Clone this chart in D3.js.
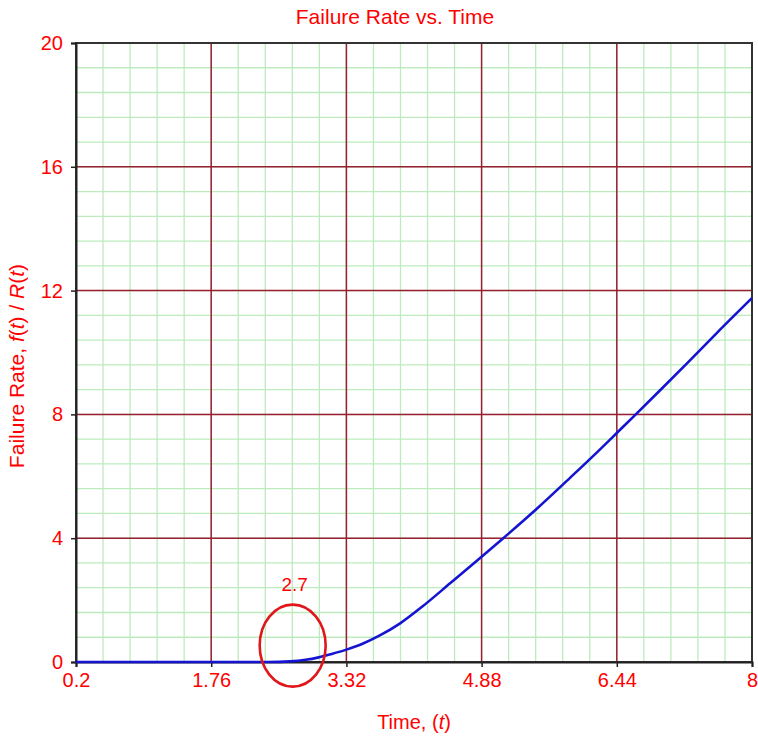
<!DOCTYPE html>
<html>
<head>
<meta charset="utf-8">
<script src="https://cdn.jsdelivr.net/npm/d3@7"></script>
<style>
  html, body { margin: 0; padding: 0; background: #fff; }
  svg { display: block; font-family: "Liberation Sans", Arial, sans-serif; }
</style>
</head>
<body>
<svg id="chart" width="758" height="737"></svg>
<script>
// Failure rate curve h(t) = f(t) / R(t)
const timeValues = [0.2, 1.0, 2.0, 2.42, 2.67, 2.85, 3.0, 3.15, 3.32, 3.5, 3.7, 3.94, 4.2, 4.52, 4.88,
                    5.13, 5.52, 5.9, 6.25, 6.44, 6.63, 6.94, 7.25, 7.59, 8.0];
const rateValues = [0, 0, 0, 0, 0.02, 0.07, 0.15, 0.26, 0.4, 0.58, 0.85, 1.25, 1.8, 2.55, 3.4,
                    4.0, 4.96, 5.95, 6.88, 7.4, 7.92, 8.78, 9.65, 10.62, 11.76];

const xTickValues = [0.2, 1.76, 3.32, 4.88, 6.44, 8];
const xTickLabels = ["0.2", "1.76", "3.32", "4.88", "6.44", "8"];
const yTickValues = [0, 4, 8, 12, 16, 20];

// Highlighted point on the curve
const markerTime = 2.7;
const markerLabel = "2.7";

const svg = d3.select("#chart");
const margin = { left: 76, right: 6, top: 43, bottom: 75 };
const W = 758, H = 737;

const x = d3.scaleLinear().domain([0.2, 8]).range([margin.left, W - margin.right]);
const y = d3.scaleLinear().domain([0, 20]).range([H - margin.bottom, margin.top]);

const red = "#ff0000";

// Minor grid (5 subdivisions per major step)
const xMinor = d3.range(0, 26).map(i => 0.2 + i * 0.312);
const yMinor = d3.range(0, 26).map(i => i * 0.8);
const grid = svg.append("g");
grid.selectAll("line.vx").data(xMinor).join("line")
  .attr("x1", d => x(d)).attr("x2", d => x(d))
  .attr("y1", y(0)).attr("y2", y(20))
  .attr("stroke", "#bdebbd").attr("stroke-width", 1.3);
grid.selectAll("line.hy").data(yMinor).join("line")
  .attr("x1", x(0.2)).attr("x2", x(8))
  .attr("y1", d => y(d)).attr("y2", d => y(d))
  .attr("stroke", "#bdebbd").attr("stroke-width", 1.3);

// Major grid
grid.selectAll("line.mx").data(xTickValues).join("line")
  .attr("x1", d => x(d)).attr("x2", d => x(d))
  .attr("y1", y(0)).attr("y2", y(20))
  .attr("stroke", "#9a1f33").attr("stroke-width", 1.5);
grid.selectAll("line.my").data(yTickValues).join("line")
  .attr("x1", x(0.2)).attr("x2", x(8))
  .attr("y1", d => y(d)).attr("y2", d => y(d))
  .attr("stroke", "#9a1f33").attr("stroke-width", 1.5);

// Frame
svg.append("rect")
  .attr("x", x(0.2)).attr("y", y(20))
  .attr("width", x(8) - x(0.2)).attr("height", y(0) - y(20))
  .attr("fill", "none").attr("stroke", "#333").attr("stroke-width", 2);

// Axes
const xAxis = svg.append("g")
  .attr("transform", `translate(0,${y(0)})`)
  .call(d3.axisBottom(x).tickValues(xTickValues).tickFormat((d, i) => xTickLabels[i]).tickSize(5).tickPadding(6));
const yAxis = svg.append("g")
  .attr("transform", `translate(${x(0.2)},0)`)
  .call(d3.axisLeft(y).tickValues(yTickValues).tickSize(5).tickPadding(8));
[xAxis, yAxis].forEach(g => {
  g.select(".domain").attr("stroke", "#222").attr("stroke-width", 2);
  g.selectAll(".tick line").attr("stroke", "#222").attr("stroke-width", 1.5);
  g.selectAll(".tick text").attr("fill", red)
    .style("font-family", '"Liberation Sans", Arial, sans-serif').style("font-size", "20px");
});

// Curve
const pts = timeValues.map((t, i) => [t, rateValues[i]]);
svg.append("path")
  .datum(pts)
  .attr("fill", "none")
  .attr("stroke", "#1414d2")
  .attr("stroke-width", 2.6)
  .attr("d", d3.line().x(d => x(d[0])).y(d => y(d[1])).curve(d3.curveMonotoneX));

// Marker ellipse and label
const mx = x(markerTime);
svg.append("ellipse")
  .attr("cx", mx).attr("cy", y(0.53))
  .attr("rx", 33).attr("ry", 41)
  .attr("fill", "none").attr("stroke", "#e0161b").attr("stroke-width", 2.6);
svg.append("text")
  .attr("x", mx + 2).attr("y", 591)
  .attr("text-anchor", "middle").attr("fill", red)
  .style("font-size", "19px")
  .text(markerLabel);

// Title
svg.append("text")
  .attr("x", 395).attr("y", 24)
  .attr("text-anchor", "middle").attr("fill", red)
  .style("font-size", "21px")
  .text("Failure Rate vs. Time");

// X axis title
const xt = svg.append("text")
  .attr("x", (x(0.2) + x(8)) / 2).attr("y", 729)
  .attr("text-anchor", "middle").attr("fill", red)
  .style("font-size", "20px");
xt.append("tspan").text("Time, (");
xt.append("tspan").attr("font-style", "italic").text("t");
xt.append("tspan").text(")");

// Y axis title
const yt = svg.append("text")
  .attr("transform", `translate(24,366) rotate(-90)`)
  .attr("text-anchor", "middle").attr("fill", red)
  .style("font-size", "21px");
yt.append("tspan").text("Failure Rate, ");
yt.append("tspan").attr("font-style", "italic").text("f");
yt.append("tspan").text("(");
yt.append("tspan").attr("font-style", "italic").text("t");
yt.append("tspan").text(") / ");
yt.append("tspan").attr("font-style", "italic").text("R");
yt.append("tspan").text("(");
yt.append("tspan").attr("font-style", "italic").text("t");
yt.append("tspan").text(")");
</script>
</body>
</html>
